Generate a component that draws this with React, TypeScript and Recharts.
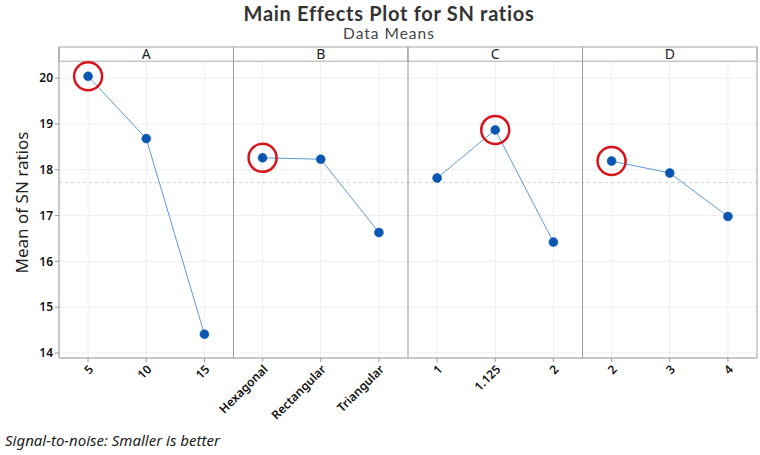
import React from 'react';
import {
  LineChart,
  Line,
  XAxis,
  YAxis,
  CartesianGrid,
  ReferenceLine,
  ReferenceArea,
  ReferenceDot,
} from 'recharts';

// factors and their levels, left to right
const factors = ['A', 'B', 'C', 'D'];
const levelsA = ['5', '10', '15'];
const levelsB = ['Hexagonal', 'Rectangular', 'Triangular'];
const levelsC = ['1', '1.125', '2'];
const levelsD = ['2', '3', '4'];

// mean SN ratio per level
const meansA = [20.04, 18.68, 14.41];
const meansB = [18.26, 18.23, 16.63];
const meansC = [17.82, 18.87, 16.42];
const meansD = [18.19, 17.93, 16.98];

// index of the circled (best) level in each factor
const bestLevel = [0, 0, 1, 0];

const grandMean = 17.72;
const yTicks = [14, 15, 16, 17, 18, 19, 20];

const FONT = '"Noto Sans", "Open Sans", sans-serif';
const TITLE_FONT = 'Lato, "Noto Sans", sans-serif';
const allLevels = [levelsA, levelsB, levelsC, levelsD];
const allMeans = [meansA, meansB, meansC, meansD];
const tickLabels = allLevels.flat();
const xTicks = tickLabels.map((_, i) => i);

// y range incl. the header strip above the data region
const Y_MIN = 13.89;
const STRIP_LOW = 20.37;
const Y_MAX = 20.68;

const series = allMeans.map((means, p) =>
  means.map((y, i) => ({ x: p * 3 + i, y }))
);

export default function App() {
  return (
    <div style={{ position: 'absolute', left: 0, top: 0, width: 760, height: 455, background: '#fff', fontFamily: FONT }}>
      <div style={{ position: 'absolute', left: 189, width: 400, top: 1, textAlign: 'center', fontSize: 20, fontWeight: 700, letterSpacing: 0.7, color: '#333', lineHeight: 'normal', fontFamily: TITLE_FONT }}>
        Main Effects Plot for SN ratios
      </div>
      <div style={{ position: 'absolute', left: 189, width: 400, top: 24, textAlign: 'center', fontSize: 15.5, letterSpacing: 1, color: '#444', lineHeight: 'normal', fontFamily: TITLE_FONT }}>
        Data Means
      </div>
      <LineChart width={760} height={455} margin={{ top: 47, right: 3, bottom: 37, left: 0 }}>
        <CartesianGrid stroke="#eeeeee" />
        <XAxis
          type="number"
          dataKey="x"
          domain={[-0.5, 11.5]}
          ticks={xTicks}
          interval={0}
          allowDataOverflow
          height={60}
          stroke="#999"
          tickSize={4}
          angle={-45}
          textAnchor="end"
          tick={{ fill: '#111', fontSize: 12, fontWeight: 600, fontFamily: FONT }}
          tickFormatter={(v) => tickLabels[v] ?? ''}
        />
        <YAxis
          type="number"
          domain={[Y_MIN, Y_MAX]}
          ticks={yTicks}
          allowDataOverflow
          width={59}
          stroke="#999"
          tickSize={4}
          tick={{ fill: '#111', fontSize: 12, fontWeight: 600, fontFamily: FONT }}
          label={{
            value: 'Mean of SN ratios',
            angle: -90,
            position: 'insideLeft',
            offset: 22,
            style: { textAnchor: 'middle', fontSize: 17, fill: '#222', fontFamily: FONT },
          }}
        />
        <ReferenceLine y={grandMean} stroke="#cfcfcf" strokeDasharray="3 3" />
        {factors.map((f, p) => (
          <ReferenceArea
            key={f}
            x1={p * 3 - 0.5}
            x2={p * 3 + 2.5}
            y1={STRIP_LOW}
            y2={Y_MAX}
            fill="#fff"
            fillOpacity={1}
            stroke="#aaa"
            label={{ value: f, position: 'center', fill: '#222', fontSize: 14, fontFamily: FONT }}
          />
        ))}
        {[2.5, 5.5, 8.5].map((x) => (
          <ReferenceLine key={x} x={x} stroke="#999" />
        ))}
        <ReferenceLine x={11.5} stroke="#aaa" />
        {series.map((d, p) => (
          <Line
            key={p}
            data={d}
            dataKey="y"
            stroke="#5b9bd5"
            strokeWidth={1}
            dot={{ r: 4.5, fill: '#0b56b0', stroke: '#0b56b0', strokeWidth: 0.5 }}
            isAnimationActive={false}
          />
        ))}
        {bestLevel.map((lvl, p) => (
          <ReferenceDot
            key={p}
            x={p * 3 + lvl}
            y={allMeans[p][lvl]}
            r={14}
            fill="none"
            stroke="#d7141a"
            strokeWidth={2.5}
          />
        ))}
      </LineChart>
      <div style={{ position: 'absolute', left: 5, top: 430, fontSize: 15, fontStyle: 'italic', color: '#222' }}>
        Signal-to-noise: Smaller is better
      </div>
    </div>
  );
}
